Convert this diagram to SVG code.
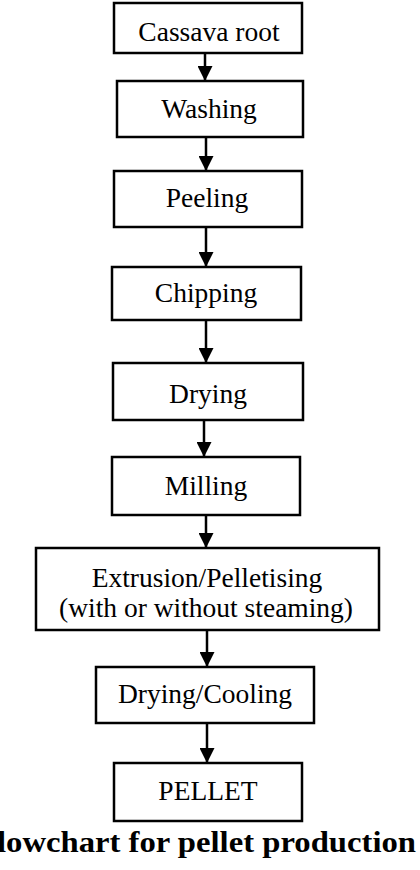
<svg xmlns="http://www.w3.org/2000/svg" width="420" height="870" viewBox="0 0 420 870">
<style>
.box{fill:#fff;stroke:#000;stroke-width:2.5}
.lbl{font-family:"Liberation Serif","Times New Roman",serif;font-size:27.5px;fill:#000;text-anchor:middle}
.cap{font-family:"Liberation Serif","Times New Roman",serif;font-size:29px;font-weight:bold;fill:#000}
.con{stroke:#000;stroke-width:2.5;fill:none;marker-end:url(#ah)}
</style>
<defs>
<marker id="ah" viewBox="0 0 10 10" refX="10" refY="5" markerWidth="6" markerHeight="6" markerUnits="strokeWidth" orient="auto">
<path d="M0,0 L10,5 L0,10 z" fill="#000"/>
</marker>
</defs>
<rect width="420" height="870" fill="#fff"/>
<g id="connectors">
<line class="con" x1="205" y1="53" x2="205" y2="81"/>
<line class="con" x1="206" y1="137" x2="206" y2="171"/>
<line class="con" x1="206" y1="227" x2="206" y2="267"/>
<line class="con" x1="206" y1="320" x2="206" y2="363"/>
<line class="con" x1="204" y1="420" x2="204" y2="457"/>
<line class="con" x1="206" y1="515" x2="206" y2="548"/>
<line class="con" x1="207" y1="630" x2="207" y2="667"/>
<line class="con" x1="207" y1="723" x2="207" y2="763"/>
</g>
<g id="cassava"><rect class="box" x="114" y="3" width="188" height="50"/><text class="lbl" x="209" y="41">Cassava root</text></g>
<g id="washing"><rect class="box" x="117" y="81" width="186" height="56"/><text class="lbl" x="209" y="118">Washing</text></g>
<g id="peeling"><rect class="box" x="114" y="171" width="188" height="56"/><text class="lbl" x="207" y="207">Peeling</text></g>
<g id="chipping"><rect class="box" x="112" y="267" width="189" height="53"/><text class="lbl" x="206" y="302">Chipping</text></g>
<g id="drying"><rect class="box" x="113" y="363" width="190" height="57"/><text class="lbl" x="208" y="403">Drying</text></g>
<g id="milling"><rect class="box" x="112" y="457" width="188" height="58"/><text class="lbl" x="206" y="495">Milling</text></g>
<g id="extrusion"><rect class="box" x="36" y="548" width="343" height="82"/><text class="lbl" x="207" y="587">Extrusion/Pelletising</text><text class="lbl" x="206" y="617">(with or without steaming)</text></g>
<g id="drycool"><rect class="box" x="96" y="667" width="218" height="56"/><text class="lbl" x="205" y="703">Drying/Cooling</text></g>
<g id="pellet"><rect class="box" x="114" y="763" width="188" height="58"/><text class="lbl" x="208" y="800">PELLET</text></g>
<text class="cap" x="-23" y="852" textLength="439" lengthAdjust="spacingAndGlyphs">Flowchart for pellet production</text>
</svg>
